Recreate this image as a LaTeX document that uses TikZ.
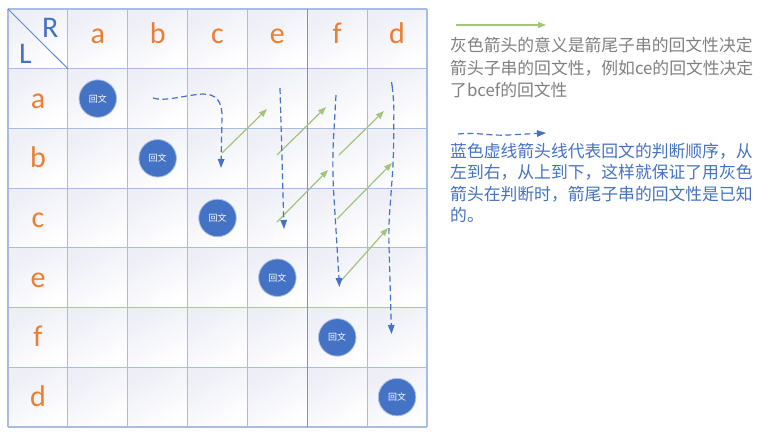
\documentclass[tikz,border=0pt]{standalone}
\usepackage{fontspec}
\setmainfont{Carlito}
\newfontfamily\cjk{Noto Sans CJK SC}
\usetikzlibrary{arrows.meta}
\definecolor{orng}{HTML}{ED7D31}
\definecolor{bluec}{HTML}{4472C4}
\definecolor{gridc}{HTML}{A9BCE2}
\definecolor{gridd}{HTML}{7393D4}
\definecolor{greenc}{HTML}{A4C47C}
\definecolor{grayt}{HTML}{808080}
\definecolor{cellg}{HTML}{EDEEF6}
\tikzset{
  hdr/.style={anchor=base, inner sep=0pt, text=orng, font=\fontsize{30}{30}\selectfont},
  pal/.style={circle, fill=bluec, draw=bluec!45, line width=0.8pt, minimum size=37.5pt, inner sep=0pt, text=white, font=\cjk\fontsize{9}{9}\selectfont},
  garrow/.style={draw=greenc, line width=1.2pt, -{Triangle[length=8pt,width=6pt]}, fill=greenc},
  barrow/.style={draw=bluec, line width=1.2pt, dash pattern=on 6pt off 3.5pt, -{Triangle[length=9pt,width=6.5pt]}},
  graytxt/.style={anchor=base west, inner sep=0pt, text=grayt, font=\cjk\fontsize{16.8}{22}\selectfont},
  bluetxt/.style={anchor=base west, inner sep=0pt, text=bluec, font=\cjk\fontsize{16.8}{22}\selectfont}
}
\begin{document}
\begin{tikzpicture}[x=1pt,y=-1pt]
\useasboundingbox (0,0) rectangle (780,439);
\fill[white] (0,0) rectangle (780,439);
% cells
\foreach \i in {0,...,6}{\foreach \j in {0,...,6}{
  \shade[top color=cellg, bottom color=white, shading angle=30]
    ({8+59.86*\i},{9+59.71*\j}) rectangle ++(59.86,59.71);
}}
% grid lines
\foreach \i in {0,...,7}{
  \draw[gridc, line width=1.1pt] ({8+59.86*\i},9) -- ({8+59.86*\i},427);
  \draw[gridc, line width=1.1pt] (8,{9+59.71*\i}) -- (427,{9+59.71*\i});
}
\draw[gridd, line width=1.1pt] ({8+59.86*5},9) -- ({8+59.86*5},427);
% corner
\draw[bluec!85, line width=0.9pt] (8,9) -- (67.86,68.71);
\node[anchor=base west, inner sep=0pt, text=bluec, font=\fontsize{30}{30}\selectfont] (cR) at (42,37) {R};
\node[anchor=base west, inner sep=0pt, text=bluec, font=\fontsize{30}{30}\selectfont] (cL) at (19,63) {L};
% headers
\foreach \l/\k in {a/1,b/2,c/3,e/4,f/5,d/6}{
  \node[hdr] (h-\l) at ({8+59.86*(\k+0.5)},43.3) {\l};
  \node[hdr] (r-\l) at (38,{9+59.71*(\k+0.5)+9.5}) {\l};
  \node[pal] (p-\l) at ({8+59.86*(\k+0.5)},{9+59.71*(\k+0.5)}) {回文};
}
% green arrows
\coordinate (g1s) at (222,153); \coordinate (g1e) at (267,109);
\coordinate (g2s) at (277,155); \coordinate (g2e) at (326,107);
\coordinate (g3s) at (339,155); \coordinate (g3e) at (384,111);
\coordinate (g4s) at (277,222); \coordinate (g4e) at (328,170);
\coordinate (g5s) at (337,219); \coordinate (g5e) at (392,163);
\coordinate (g6s) at (340,282); \coordinate (g6e) at (388,228);
\foreach \n in {1,...,6}{\draw[garrow] (g\n s) -- (g\n e);}
% blue dashed arrows
\coordinate (d1s) at (153,98); \coordinate (d1e) at (221,168);
\draw[barrow] (d1s) .. controls (165,102) and (185,95) .. (203,94)
   .. controls (216,94) and (222,101) .. (222,116) -- (d1e);
\coordinate (d2s) at (280,88); \coordinate (d2e) at (284,229);
\draw[barrow] (d2s) -- (d2e);
\coordinate (d3s) at (336,95); \coordinate (d3e) at (339.5,287);
\draw[barrow, rounded corners=25pt] (d3s) -- (332,165) -- (d3e);
\coordinate (d4s) at (392.5,88); \coordinate (d4e) at (391.5,334);
\draw[barrow, rounded corners=15pt] (d4s) -- (394,97) -- (393.5,160) -- (388.5,228) -- (d4e);
% legend
\coordinate (lg1s) at (456,25); \coordinate (lg1e) at (546,25);
\draw[garrow] (lg1s) -- (lg1e);
\node[graytxt] (t1) at (450,52) {灰色箭头的意义是箭尾子串的回文性决定};
\node[graytxt] (t2) at (450,74) {箭头子串的回文性，例如ce的回文性决定};
\node[graytxt] (t3) at (450,96) {了bcef的回文性};
\coordinate (lg2s) at (458,134); \coordinate (lg2e) at (546,133);
\draw[barrow] (lg2s) .. controls (478,132) and (488,136) .. (508,135) -- (lg2e);
\node[bluetxt] (u1) at (450,157) {蓝色虚线箭头线代表回文的判断顺序，从};
\node[bluetxt] (u2) at (450,178.5) {左到右，从上到下，这样就保证了用灰色};
\node[bluetxt] (u3) at (450,200) {箭头在判断时，箭尾子串的回文性是已知};
\node[bluetxt] (u4) at (450,221.5) {的。};
\end{tikzpicture}
\end{document}
